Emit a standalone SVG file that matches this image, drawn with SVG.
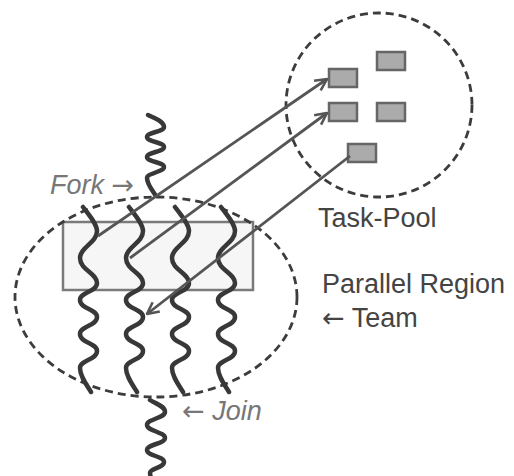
<svg xmlns="http://www.w3.org/2000/svg" xmlns:xlink="http://www.w3.org/1999/xlink" width="514" height="476" viewBox="0 0 514 476">
<style>
.dash{fill:none;stroke:#3c3c3c;stroke-width:2.8;stroke-dasharray:8 5}
.thread{fill:none;stroke:#383838;stroke-width:4.5;stroke-linecap:round;stroke-linejoin:round}
.task{fill:#ababab;stroke:#666;stroke-width:2.5}
.link{fill:none;stroke:#555;stroke-width:2.8}
.lbl{font-family:"Liberation Sans",Arial,sans-serif;font-size:27px;fill:#444}
.note{font-family:"Liberation Sans",Arial,sans-serif;font-size:27px;font-style:italic;fill:#777}
.arr{font-family:"DejaVu Sans",sans-serif;font-style:normal;font-weight:normal}
</style>
<defs>
<marker id="ah" viewBox="0 0 12 12" refX="11" refY="6" markerWidth="14" markerHeight="14" markerUnits="userSpaceOnUse" orient="auto">
<path d="M1,1 L11,6 L1,11" fill="none" stroke="#555" stroke-width="2.2"/>
</marker>
<path id="wave" d="M-5,207 C1,215 9,224 9,231 C9,243 -8,247 -8,258 C-8,270 9,273 9,283 C9,292 -8,292 -8,300 C-8,309 9,309 9,317 C9,326 -8,326 -8,334 C-8,343 9,343 9,351 C9,360 -8,360 -8,368 C-8,376 -2,384 3,392"/>
</defs>
<rect x="0" y="0" width="514" height="476" fill="#fff"/>

<g id="team-box">
<rect x="63" y="222" width="190" height="68" fill="#f6f6f6" stroke="#7a7a7a" stroke-width="2.5"/>
</g>
<g id="parallel-region">
<ellipse class="dash" cx="156" cy="297" rx="141" ry="100"/>
<text class="lbl" x="322" y="293" font-size="28">Parallel Region</text>
<text class="lbl" x="322" y="327" font-size="28"><tspan class="arr">←</tspan> Team</text>
</g>
<g id="task-pool">
<ellipse class="dash" cx="379" cy="105" rx="93" ry="92"/>
<text class="lbl" x="318" y="227">Task-Pool</text>
</g>
<g id="task1"><rect class="task" x="329" y="69" width="28" height="18"/></g>
<g id="task2"><rect class="task" x="377" y="52" width="28" height="18"/></g>
<g id="task3"><rect class="task" x="329" y="103" width="28" height="18"/></g>
<g id="task4"><rect class="task" x="377" y="103" width="28" height="18"/></g>
<g id="task5"><rect class="task" x="348" y="144" width="28" height="18"/></g>

<g id="master-thread-top">
<path class="thread" d="M148,115 C154,118 164,121 164,127 C164,132 147,132 147,137 C147,142 164,142 164,147 C164,152 147,152 147,157 C147,162 164,162 164,167 C164,172 147,173 147,178 C147,184 152,190 156,196"/>
</g>
<g id="fork-label"><text class="note" x="50" y="194">Fork <tspan class="arr">→</tspan></text></g>
<g id="thread1"><use xlink:href="#wave" href="#wave" class="thread" x="88"/></g>
<g id="thread2"><use xlink:href="#wave" href="#wave" class="thread" x="134"/></g>
<g id="thread3"><use xlink:href="#wave" href="#wave" class="thread" x="180"/></g>
<g id="thread4"><use xlink:href="#wave" href="#wave" class="thread" x="226"/></g>
<g id="master-thread-bottom">
<path class="thread" d="M150,400 C156,404 165,406 165,412 C165,418 147,419 147,425 C147,431 165,432 165,438 C165,444 147,444 147,450 C147,456 164,456 164,462 C164,468 150,468 150,473 L151,480"/>
</g>
<g id="join-label"><text class="note" x="182" y="420"><tspan class="arr">←</tspan> Join</text></g>

<g id="connectors">
<line class="link" x1="98" y1="236" x2="327" y2="79" marker-end="url(#ah)"/>
<line class="link" x1="130" y1="258" x2="327" y2="113" marker-end="url(#ah)"/>
<line class="link" x1="350" y1="156" x2="147" y2="314" marker-end="url(#ah)"/>
</g>
</svg>
